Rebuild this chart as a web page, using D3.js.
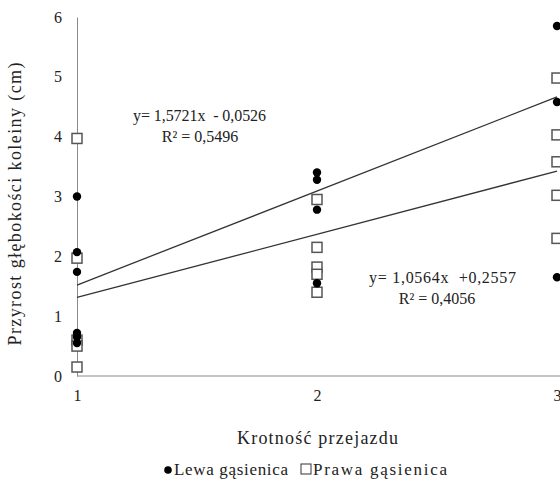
<!DOCTYPE html>
<html><head><meta charset="utf-8">
<script src="https://cdn.jsdelivr.net/npm/d3@7"></script>
<style>body{margin:0;background:#fff}svg{display:block}</style>
</head><body><div id="chart"></div>
<script>
const categories = [1, 2, 3];
const yTicks = [0, 1, 2, 3, 4, 5, 6];
const lewaX = [1,1,1,1,1,1, 2,2,2,2, 3,3,3];
const lewaY = [3.0,2.07,1.74,0.72,0.65,0.55, 3.4,3.28,2.78,1.55, 5.85,4.58,1.65];
const prawaX = [1,1,1,1,1, 2,2,2,2,2, 3,3,3,3,3];
const prawaY = [3.97,1.97,0.6,0.5,0.15, 2.95,2.15,1.82,1.7,1.4, 4.98,4.03,3.58,3.02,2.3];
const trendLewa = {slope:1.5721, intercept:-0.0526, eq:"y= 1,5721x  - 0,0526", r2:"R² = 0,5496"};
const trendPrawa = {slope:1.0564, intercept:0.2557, eq:"y= 1,0564x  +0,2557", r2:"R² = 0,4056"};

const FONT='"Liberation Serif","Times New Roman","DejaVu Serif",serif';
const W=560,H=495;
const svg=d3.select("#chart").append("svg").attr("width",W).attr("height",H)
  .attr("font-family",FONT);
const x=d3.scaleLinear().domain([1,3]).range([77,557]);
const y=d3.scaleLinear().domain([0,6]).range([376,17]);

function txt(sel,fs){return sel.attr("font-family",FONT).attr("font-size",fs).attr("fill","#222");}

// axes
const yAxis=d3.axisLeft(y).tickValues(yTicks).tickFormat(d3.format("d")).tickSize(0).tickPadding(15);
const gy=svg.append("g").attr("transform","translate(77,0)").call(yAxis);
gy.attr("font-family",FONT);
gy.select(".domain").attr("stroke","#8a8a8a");
txt(gy.selectAll("text"),"16px");
const xAxis=d3.axisBottom(x).tickValues(categories).tickFormat(d3.format("d")).tickSize(0).tickPadding(14);
const gx=svg.append("g").attr("transform","translate(0,376)").call(xAxis);
gx.attr("font-family",FONT);
gx.select(".domain").attr("stroke","#8a8a8a").attr("d","M77,0H560");
txt(gx.selectAll("text"),"16px");

// trend lines
[trendLewa,trendPrawa].forEach(t=>{
  svg.append("line")
    .attr("x1",x(1)).attr("y1",y(t.slope*1+t.intercept))
    .attr("x2",x(3)).attr("y2",y(t.slope*3+t.intercept))
    .attr("stroke","#333").attr("stroke-width",1.3);
});

// points
svg.append("g").selectAll("rect").data(prawaY).join("rect")
  .attr("x",(d,i)=>x(prawaX[i])-5).attr("y",d=>y(d)-5)
  .attr("width",10).attr("height",10)
  .attr("fill","#fff").attr("stroke","#555").attr("stroke-width",1.5);
svg.append("g").selectAll("circle").data(lewaY).join("circle")
  .attr("cx",(d,i)=>x(lewaX[i])).attr("cy",d=>y(d)).attr("r",4.2).attr("fill","#000");

// equations
txt(svg.append("text").attr("x",133).attr("y",121).style("white-space","pre")
  .attr("textLength",133).attr("lengthAdjust","spacing"),"16px").text(trendLewa.eq);
txt(svg.append("text").attr("x",200).attr("y",142).attr("text-anchor","middle"),"16px").text(trendLewa.r2);
txt(svg.append("text").attr("x",369).attr("y",283).style("white-space","pre")
  .attr("textLength",147).attr("lengthAdjust","spacing"),"16px").text(trendPrawa.eq);
txt(svg.append("text").attr("x",437).attr("y",304).attr("text-anchor","middle"),"16px").text(trendPrawa.r2);

// axis titles
txt(svg.append("text").attr("transform","translate(21,204) rotate(-90)").attr("x",-141.5)
  .attr("textLength",283).attr("lengthAdjust","spacing"),"18px").text("Przyrost głębokości koleiny (cm)");
txt(svg.append("text").attr("x",237).attr("y",444)
  .attr("textLength",161).attr("lengthAdjust","spacing"),"18px").text("Krotność przejazdu");

// legend
const lg=svg.append("g");
lg.append("circle").attr("cx",168).attr("cy",470).attr("r",3.8).attr("fill","#000");
txt(lg.append("text").attr("x",174).attr("y",475).attr("textLength",114).attr("lengthAdjust","spacing"),"17px").text("Lewa gąsienica");
lg.append("rect").attr("x",301).attr("y",464).attr("width",10).attr("height",10).attr("fill","#fff").attr("stroke","#333").attr("stroke-width",1);
txt(lg.append("text").attr("x",313).attr("y",475).attr("textLength",134).attr("lengthAdjust","spacing"),"17px").text("Prawa gąsienica");
</script></body></html>
